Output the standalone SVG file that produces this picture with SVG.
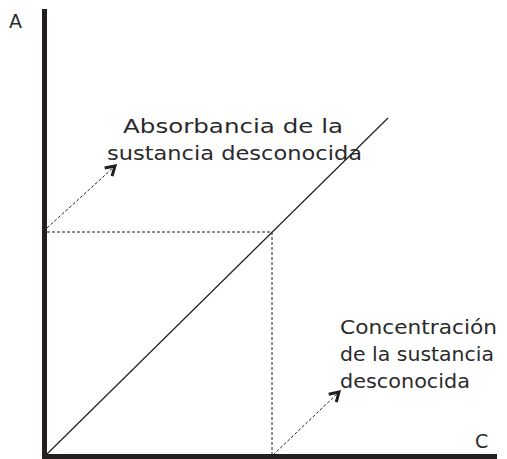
<svg xmlns="http://www.w3.org/2000/svg" width="507" height="459" viewBox="0 0 507 459">
<style>
text{font-family:"DejaVu Sans","Liberation Sans",sans-serif;font-size:19px;fill:#2a2a2a;}
.axis{stroke:#231f20;stroke-width:5;fill:none;}
.dash{stroke:#231f20;stroke-width:1;stroke-dasharray:3,2;fill:none;}
.line{stroke:#231f20;stroke-width:1.2;fill:none;}
</style>
<defs>
<marker id="ah" markerWidth="14" markerHeight="14" refX="10" refY="7" orient="auto" markerUnits="userSpaceOnUse">
<polyline points="1,1.5 10,7 1,12.5" fill="none" stroke="#231f20" stroke-width="3"/>
</marker>
</defs>
<rect width="507" height="459" fill="#fff"/>
<g id="axes">
<line class="axis" x1="44.5" y1="9" x2="44.5" y2="459"/>
<line class="axis" x1="42" y1="456.5" x2="497" y2="456.5"/>
</g>
<g id="labelA"><text x="9" y="28">A</text></g>
<g id="labelC"><text x="475" y="448">C</text></g>
<g id="connectors">
<line class="line" x1="46" y1="455" x2="388" y2="118"/>
<line class="dash" x1="47" y1="232" x2="272" y2="232"/>
<line class="dash" x1="272" y1="232" x2="272" y2="455"/>
<line class="dash" x1="47" y1="228" x2="115" y2="166" marker-end="url(#ah)"/>
<line class="dash" x1="273" y1="455" x2="339" y2="392" marker-end="url(#ah)"/>
</g>
<g id="absorbancia">
<text x="123" y="133" textLength="220" lengthAdjust="spacingAndGlyphs">Absorbancia de la</text>
<text x="107" y="160" textLength="255" lengthAdjust="spacingAndGlyphs">sustancia desconocida</text>
</g>
<g id="concentracion">
<text x="340" y="334" textLength="157" lengthAdjust="spacingAndGlyphs">Concentración</text>
<text x="340" y="361" textLength="154" lengthAdjust="spacingAndGlyphs">de la sustancia</text>
<text x="340" y="388" textLength="130" lengthAdjust="spacingAndGlyphs">desconocida</text>
</g>
</svg>
